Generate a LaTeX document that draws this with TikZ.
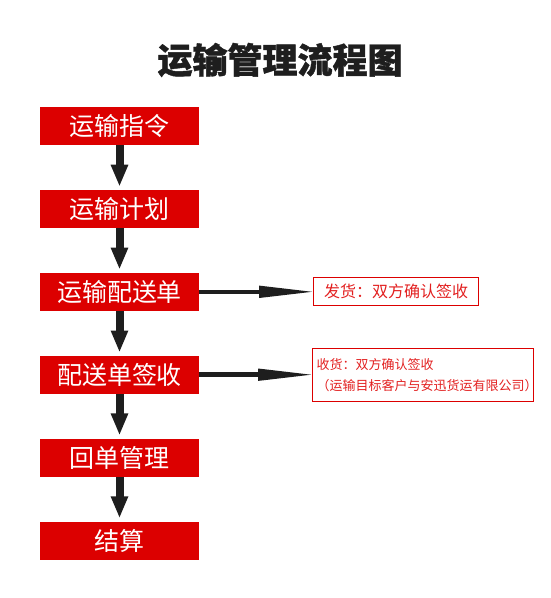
\documentclass[tikz,border=0pt]{standalone}
\usepackage{fontspec}
\setmainfont{Noto Sans CJK SC}
\newfontfamily\TitleFont[BoldFeatures={FakeBold=1.2}]{Noto Sans CJK SC}
\usetikzlibrary{positioning,arrows.meta}
\definecolor{BoxRed}{RGB}{220,0,0}
\definecolor{NoteRed}{RGB}{226,32,32}
\definecolor{ArrowBlack}{RGB}{30,30,30}
\tikzset{
    StepBox/.style={fill=BoxRed, text=white, minimum width=159pt, minimum height=38pt,
        inner sep=0pt, font=\fontsize{25}{25}\selectfont},
    NoteBox/.style={draw=BoxRed, line width=0.8pt, text=NoteRed, anchor=west},
    DownArrow/.style={draw=ArrowBlack, line width=8pt, -{Triangle[length=22pt,width=16pt]}, shorten >=3pt},
    SideArrow/.style={draw=ArrowBlack, line width=4.5pt, -{Triangle[length=57pt,width=11pt]}, shorten >=-3pt},
}

\begin{document}
\begin{tikzpicture}[x=1pt,y=-1pt,node distance=44.5pt]
    \useasboundingbox (0,0) rectangle (550,598);
    \node[font=\fontsize{35}{35}\TitleFont\bfseries, text=ArrowBlack] (Title) at (280,60) {运输管理流程图};
    \node[StepBox] (Order) at (119.5,126) {运输指令};
    \node[StepBox, below=of Order] (Plan) {运输计划};
    \node[StepBox, below=of Plan] (Waybill) {运输配送单};
    \node[StepBox, below=of Waybill] (Signoff) {配送单签收};
    \node[StepBox, below=of Signoff] (Receipt) {回单管理};
    \node[StepBox, below=of Receipt] (Settle) {结算};
    \node[NoteBox, right=114pt of Waybill, minimum width=165pt, minimum height=28pt, inner sep=0pt,
        font=\fontsize{16}{16}\selectfont] (NoteShip) {发货：双方确认签收};
    \node[NoteBox, right=113pt of Signoff, text width=213pt, minimum height=53pt, inner xsep=4pt,
        align=left, font=\fontsize{13}{21}\selectfont] (NoteReceive)
        {收货：双方确认签收\\（运输目标客户与安迅货运有限公司）};
    \foreach \from/\to in {Order/Plan, Plan/Waybill, Waybill/Signoff, Signoff/Receipt, Receipt/Settle}
        \draw[DownArrow] (\from) -- (\to);
    \draw[SideArrow] (Waybill) -- (NoteShip);
    \draw[SideArrow] (Signoff) -- (NoteReceive);
\end{tikzpicture}
\end{document}
